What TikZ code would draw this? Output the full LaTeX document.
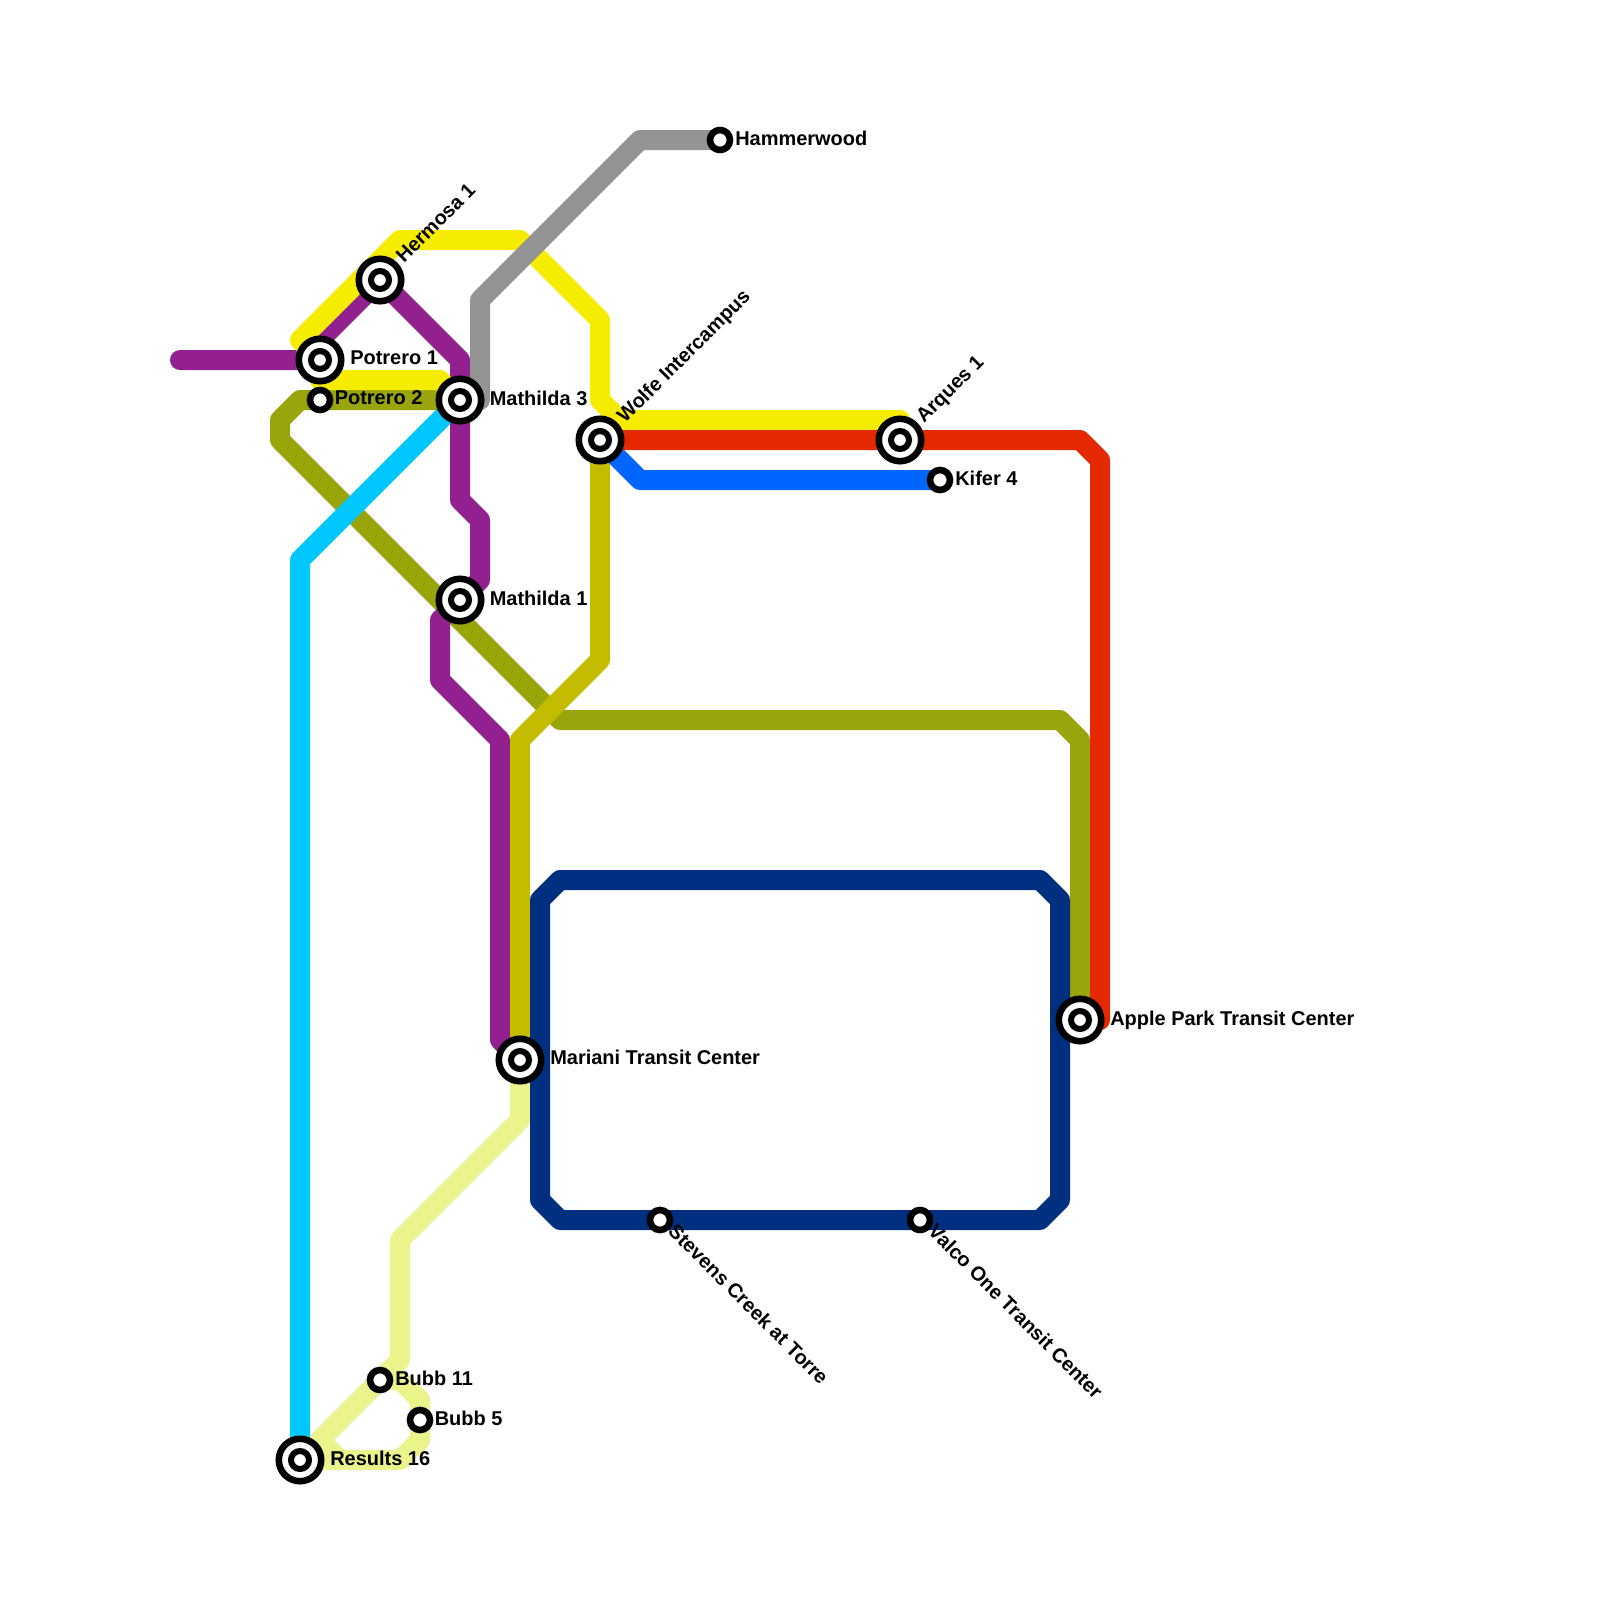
\documentclass[tikz,border=0pt]{standalone}
\usepackage{fontspec}
\usetikzlibrary{backgrounds, calc}
\setmainfont{Liberation Sans}
\definecolor{lineyellow}{HTML}{F6EC00}
\definecolor{linepurple}{HTML}{93208F}
\definecolor{lineolive}{HTML}{9AA50C}
\definecolor{linegold}{HTML}{C4BC00}
\definecolor{linered}{HTML}{E42800}
\definecolor{lineblue}{HTML}{0066FF}
\definecolor{linecyan}{HTML}{00C8FF}
\definecolor{linegray}{HTML}{949494}
\definecolor{linenavy}{HTML}{002F7F}
\definecolor{linepale}{HTML}{EBF38D}

\begin{document}
\begin{tikzpicture}[
    x=0.025cm, y=-0.025cm,
    route/.style={line width=0.5cm, line cap=round, line join=round},
    stopdot/.style={circle, draw=black, fill=white, line width=0.165cm, minimum size=0.5cm, inner sep=0pt},
    hub/.style={circle, draw=black, fill=white, line width=0.165cm, minimum size=1.06cm, inner sep=0pt,
        path picture={\draw[fill=white, line width=0.15cm] (path picture bounding box.center) circle (0.225cm);}},
    lbl/.style={anchor=base west, inner sep=0pt, font=\fontsize{14.2}{17}\selectfont\bfseries}
]
    \useasboundingbox (0,0) rectangle (1600,1600);

    % Stations
    \node[hub] (potrero1) at (320,360) {};
    \node[stopdot] (potrero2) at (320,400) {};
    \node[hub] (hermosa) at (380,280) {};
    \node[hub] (mathilda3) at (460,400) {};
    \node[hub] (mathilda1) at (460,600) {};
    \node[hub] (wolfe) at (600,440) {};
    \node[hub] (arques) at (900,440) {};
    \node[stopdot] (kifer) at (940,480) {};
    \node[stopdot] (hammerwood) at (720,140) {};
    \node[hub] (applepark) at (1080,1020) {};
    \node[hub] (mariani) at (520,1060) {};
    \node[stopdot] (stevens) at (660,1220) {};
    \node[stopdot] (valco) at (920,1220) {};
    \node[stopdot] (bubb11) at (380,1380) {};
    \node[stopdot] (bubb5) at (420,1420) {};
    \node[hub] (results) at (300,1460) {};
    \coordinate (purpleend) at (180,360);

    % Labels
    \node[lbl] (potrero1lbl) at ($(potrero1)+(30,4.5)$) {Potrero 1};
    \node[lbl] (potrero2lbl) at ($(potrero2)+(14.5,4.5)$) {Potrero 2};
    \node[lbl, rotate=45] (hermosalbl) at ($(hermosa)+(24,-16)$) {Hermosa 1};
    \node[lbl] (mathilda3lbl) at ($(mathilda3)+(29.5,5)$) {Mathilda 3};
    \node[lbl] (mathilda1lbl) at ($(mathilda1)+(29.5,5)$) {Mathilda 1};
    \node[lbl, rotate=45] (wolfelbl) at ($(wolfe)+(25,-16)$) {Wolfe Intercampus};
    \node[lbl, rotate=45] (arqueslbl) at ($(arques)+(24,-16)$) {Arques 1};
    \node[lbl] (kiferlbl) at ($(kifer)+(15,5)$) {Kifer 4};
    \node[lbl] (hammerwoodlbl) at ($(hammerwood)+(15,5.5)$) {Hammerwood};
    \node[lbl] (appleparklbl) at ($(applepark)+(30,5)$) {Apple Park Transit Center};
    \node[lbl] (marianilbl) at ($(mariani)+(30,4.5)$) {Mariani Transit Center};
    \node[lbl, rotate=-45] (stevenslbl) at ($(stevens)+(7,12.5)$) {Stevens Creek at Torre};
    \node[lbl, rotate=-45] (valcolbl) at ($(valco)+(7,12.5)$) {Valco One Transit Center};
    \node[lbl] (bubb11lbl) at ($(bubb11)+(15,5)$) {Bubb 11};
    \node[lbl] (bubb5lbl) at ($(bubb5)+(14.5,5)$) {Bubb 5};
    \node[lbl] (resultslbl) at ($(results)+(30,5)$) {Results 16};

    % Routes, under the stations
    \begin{scope}[on background layer]
        \draw[route, linepale] (mariani.center) -- (520,1120) -- (400,1240) -- (400,1360) -- (bubb11.center) -- (results.center);
        \draw[route, linepale] (bubb11.center) -- (400,1380) -- (420,1400) -- (bubb5.center) -- (420,1440) -- (400,1460) -- (results.center);
        \draw[route, linepale] (320,1440) -- (340,1460);
        \draw[route, lineolive] (mathilda3.center) -- (300,400) -- (280,420) -- (280,440) -- (560,720) -- (1060,720) -- (1080,740) -- (applepark.center);
        \draw[route, linepurple] (purpleend) -- (potrero1.center) -- (320,340) -- (hermosa.center) -- (460,360) -- (460,500) -- (480,520) -- (480,580) -- (mathilda1.center) -- (440,620) -- (440,680) -- (500,740) -- (500,1040) -- (mariani.center);
        \draw[route, lineyellow] (arques.center) -- (900,420) -- (620,420) -- (600,400) -- (600,320) -- (520,240) -- (400,240) -- (300,340) -- (320,360) -- (320,380) -- (440,380) -- (mathilda3.center);
        \draw[route, linegold] (wolfe.center) -- (600,660) -- (520,740) -- (mariani.center);
        \draw[route, lineblue] (wolfe.center) -- (640,480) -- (kifer.center);
        \draw[route, linered] (wolfe.center) -- (1080,440) -- (1100,460) -- (1100,1020) -- (applepark.center);
        \draw[route, linecyan] (mathilda3.center) -- (300,560) -- (results.center);
        \draw[route, linegray] (hammerwood.center) -- (640,140) -- (480,300) -- (480,400) -- (mathilda3.center);
        \draw[route, linenavy] (560,880) -- (1040,880) -- (1060,900) -- (1060,1200) -- (1040,1220) -- (560,1220) -- (540,1200) -- (540,900) -- cycle;
    \end{scope}
\end{tikzpicture}
\end{document}
